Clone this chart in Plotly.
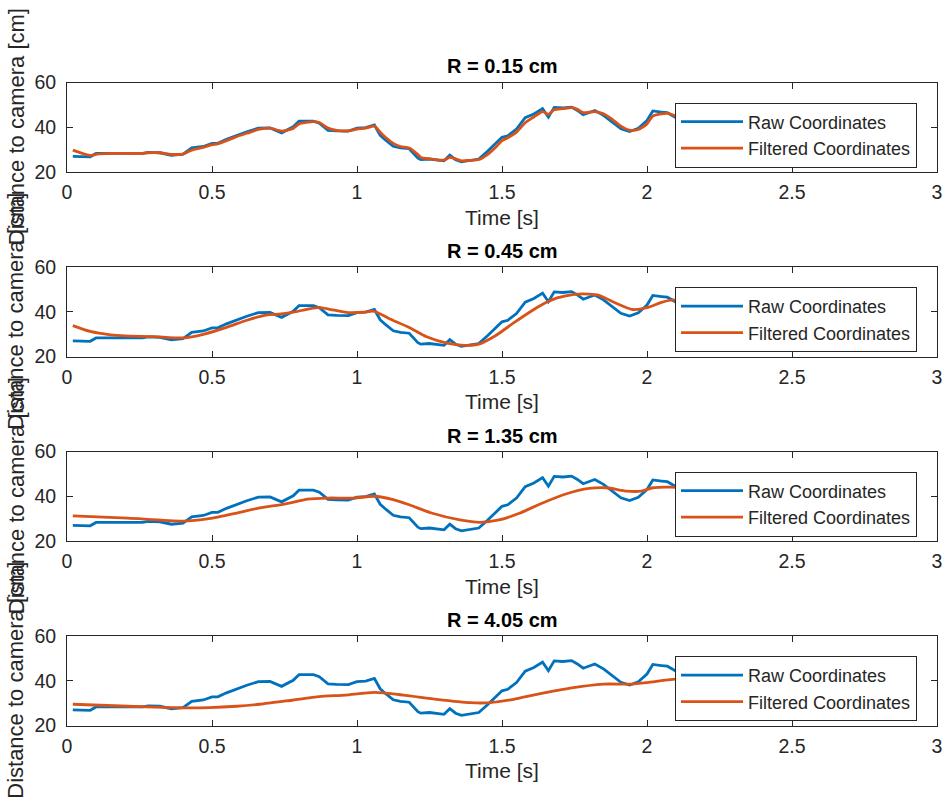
import plotly.graph_objects as go

# ---------------- data ----------------
t_raw = [0.02, 0.08, 0.10, 0.15, 0.20, 0.26, 0.28, 0.32, 0.36, 0.40, 0.43, 0.47, 0.50, 0.52,
         0.55, 0.58, 0.62, 0.66, 0.70, 0.74, 0.78, 0.80, 0.85, 0.87, 0.90, 0.93, 0.97, 1.00,
         1.03, 1.06, 1.08, 1.10, 1.125, 1.15, 1.18, 1.21, 1.22, 1.25, 1.30, 1.32, 1.34, 1.36,
         1.39, 1.42, 1.45, 1.48, 1.50, 1.52, 1.55, 1.58, 1.61, 1.64, 1.66, 1.68, 1.71, 1.74,
         1.76, 1.78, 1.82, 1.85, 1.88, 1.91, 1.94, 1.97, 2.00, 2.02, 2.05, 2.07, 2.09, 2.13,
         2.17, 2.21, 2.25, 2.29, 2.33, 2.36, 2.40, 2.43, 2.46, 2.50, 2.53, 2.57, 2.60, 2.63]
raw = [27.0, 26.8, 28.3, 28.3, 28.3, 28.3, 28.8, 28.6, 27.5, 28.0, 30.8, 31.4, 32.8, 32.8,
       34.6, 36.2, 38.0, 39.6, 39.7, 37.5, 40.2, 42.7, 42.7, 41.8, 38.6, 38.4, 38.3, 39.6,
       39.8, 41.0, 36.4, 34.1, 31.5, 30.8, 30.4, 26.2, 25.5, 25.8, 25.0, 27.5, 25.5, 24.5,
       25.3, 25.8, 29.3, 33.0, 35.5, 36.2, 39.2, 44.3, 45.9, 48.3, 44.5, 48.9, 48.6, 49.0,
       47.5, 45.6, 47.5, 45.3, 42.2, 39.3, 38.1, 39.5, 43.0, 47.3, 46.8, 46.5, 45.0, 42.0,
       38.5, 36.0, 33.5, 30.5, 27.5, 24.9, 25.0, 28.3, 28.8, 24.4, 25.6, 27.3, 28.0, 28.3]

# R = 0.15 cm filtered (same time stamps as raw)
filt_015 = [29.8, 27.4, 27.9, 28.3, 28.3, 28.3, 28.6, 28.6, 27.9, 28.0, 29.8, 31.0, 32.2, 32.6,
            34.0, 35.6, 37.3, 39.0, 39.6, 38.3, 39.5, 41.5, 42.5, 42.1, 39.6, 38.6, 38.4, 39.2,
            39.6, 40.5, 37.8, 35.3, 32.8, 31.4, 30.7, 27.8, 26.5, 25.9, 25.3, 26.5, 25.9, 25.0,
            25.2, 25.6, 27.8, 31.3, 34.0, 35.3, 37.8, 42.0, 44.6, 47.0, 45.8, 47.8, 48.3, 48.8,
            48.0, 46.5, 47.0, 46.0, 43.5, 40.5, 38.7, 39.0, 41.5, 45.0, 46.0, 46.2, 45.5, 43.0,
            39.8, 37.0, 34.5, 31.8, 28.8, 26.0, 25.6, 27.4, 28.2, 25.6, 25.8, 26.9, 27.6, 28.0]

# R = 0.45 cm filtered
t_045 = [0.02, 0.08, 0.15, 0.20, 0.30, 0.40, 0.47, 0.55, 0.62, 0.69, 0.73, 0.78, 0.83, 0.87,
         0.91, 0.97, 1.02, 1.06, 1.11, 1.18, 1.24, 1.31, 1.37, 1.42, 1.48, 1.54, 1.61, 1.65,
         1.69, 1.75, 1.80, 1.83, 1.88, 1.95, 2.00, 2.05, 2.09, 2.15, 2.22, 2.30, 2.37, 2.43,
         2.50, 2.56, 2.63]
filt_045 = [33.8, 31.2, 29.7, 29.2, 28.9, 28.3, 29.9, 33.0, 36.2, 38.6, 38.9, 39.8, 41.2, 42.0,
            41.0, 39.6, 39.8, 40.2, 37.0, 33.0, 28.8, 26.0, 25.0, 25.5, 29.5, 35.0, 41.0, 44.0,
            46.2, 47.8, 47.9, 47.5, 44.6, 41.0, 41.8, 44.2, 45.3, 43.0, 38.0, 32.5, 28.0, 26.8,
            26.2, 26.5, 27.2]

# R = 1.35 cm filtered
t_135 = [0.02, 0.21, 0.40, 0.49, 0.585, 0.665, 0.75, 0.83, 0.90, 0.99, 1.06, 1.125, 1.18,
         1.26, 1.355, 1.424, 1.49, 1.56, 1.64, 1.72, 1.80, 1.86, 1.93, 1.98, 2.02, 2.08,
         2.15, 2.25, 2.35, 2.45, 2.55, 2.63]
filt_135 = [31.2, 30.2, 28.9, 30.0, 32.5, 34.8, 36.5, 38.7, 39.2, 39.2, 40.0, 38.5, 36.2,
            32.4, 29.4, 28.3, 29.4, 32.4, 37.0, 41.0, 43.5, 43.8, 42.3, 42.3, 43.8, 44.1,
            43.5, 40.0, 35.5, 32.0, 30.5, 30.0]

# R = 4.05 cm filtered
t_405 = [0.02, 0.21, 0.40, 0.49, 0.585, 0.665, 0.78, 0.87, 0.96, 1.06, 1.16, 1.275, 1.39,
         1.46, 1.54, 1.62, 1.735, 1.85, 1.94, 2.00, 2.08, 2.20, 2.35, 2.50, 2.63]
filt_405 = [29.5, 28.6, 27.9, 28.0, 28.6, 29.5, 31.4, 32.9, 33.6, 34.8, 33.6, 31.7, 30.2,
            30.2, 31.7, 33.9, 36.7, 38.5, 38.5, 39.2, 40.5, 41.5, 41.0, 40.0, 39.0]

titles = ["R = 0.15 cm", "R = 0.45 cm", "R = 1.35 cm", "R = 4.05 cm"]
filtered = [(t_raw, filt_015), (t_045, filt_045), (t_135, filt_135), (t_405, filt_405)]
x_ticks = [0, 0.5, 1, 1.5, 2, 2.5, 3]
x_tick_text = ["0", "0.5", "1", "1.5", "2", "2.5", "3"]
y_ticks = [20, 40, 60]
y_tick_text = ["20", "40", "60"]
x_label = "Time [s]"
y_label = "Distance to camera [cm]"
names = ["Raw Coordinates", "Filtered Coordinates"]

# ---------------- layout geometry (pixels from top-left) ----------------
W, H = 943, 801
BLUE, ORANGE = "#0072BD", "#D95319"
AX = "#262626"
FONT = "Liberation Sans, Arial, Helvetica, sans-serif"
x_left, x_right = 67, 937
tops = [82.5, 267, 451.5, 636]
ax_h = 89.5


def px_x(X):
    return min(max(X / W, 0.0), 1.0)


def px_y(Y):
    return min(max(1 - Y / H, 0.0), 1.0)


fig = go.Figure()
annotations = []
layout = {}
for i in range(4):
    n = "" if i == 0 else str(i + 1)
    xa, ya = "x" + n, "y" + n
    lg = "legend" + n
    ft, fv = filtered[i]
    fig.add_trace(go.Scatter(x=t_raw, y=raw, mode="lines", name=names[0],
                             line=dict(color=BLUE, width=2.8), xaxis=xa, yaxis=ya, legend=lg))
    fig.add_trace(go.Scatter(x=ft, y=fv, mode="lines", name=names[1],
                             line=dict(color=ORANGE, width=2.8, shape="spline", smoothing=0.6),
                             xaxis=xa, yaxis=ya, legend=lg))
    top = tops[i]
    bot = top + ax_h
    common = dict(showline=True, linecolor=AX, linewidth=1, mirror="ticks", ticks="inside",
                  ticklen=6, tickcolor=AX, tickfont=dict(family=FONT, size=19.5, color=AX),
                  showgrid=False, zeroline=False, fixedrange=True, automargin=False)
    layout["xaxis" + n] = dict(domain=[px_x(x_left), px_x(x_right)], range=[0, 3],
                               tickvals=x_ticks, ticktext=x_tick_text, anchor=ya,
                               ticklabelstandoff=3, **common)
    layout["yaxis" + n] = dict(domain=[px_y(bot), px_y(top)], range=[20, 60],
                               tickvals=y_ticks, ticktext=y_tick_text, anchor=xa,
                               ticklabelstandoff=6, **common)
    layout[lg] = dict(x=px_x(917), y=px_y(top + 20), xanchor="right", yanchor="top",
                      bgcolor="white", bordercolor=AX, borderwidth=1,
                      font=dict(family=FONT, size=18, color=AX), itemwidth=62,
                      tracegroupgap=0)
    cx = px_x((x_left + x_right) / 2)
    annotations.append(dict(text="<b>" + titles[i] + "</b>", x=cx, y=px_y(top - 16),
                            xref="paper", yref="paper", showarrow=False,
                            xanchor="center", yanchor="middle",
                            font=dict(family=FONT, size=20, color="black")))
    annotations.append(dict(text=x_label, x=cx, y=px_y(bot + 45),
                            xref="paper", yref="paper", showarrow=False,
                            xanchor="center", yanchor="middle",
                            font=dict(family=FONT, size=21, color=AX)))
    annotations.append(dict(text=y_label, x=px_x(16), y=px_y(top + ax_h / 2),
                            xref="paper", yref="paper", showarrow=False, textangle=-90,
                            xanchor="center", yanchor="middle",
                            font=dict(family=FONT, size=22, color=AX)))

fig.update_layout(width=W, height=H, margin=dict(l=0, r=0, t=0, b=0, autoexpand=False),
                  paper_bgcolor="white", plot_bgcolor="white",
                  annotations=annotations, showlegend=True, **layout)
fig.write_html("out.html")
